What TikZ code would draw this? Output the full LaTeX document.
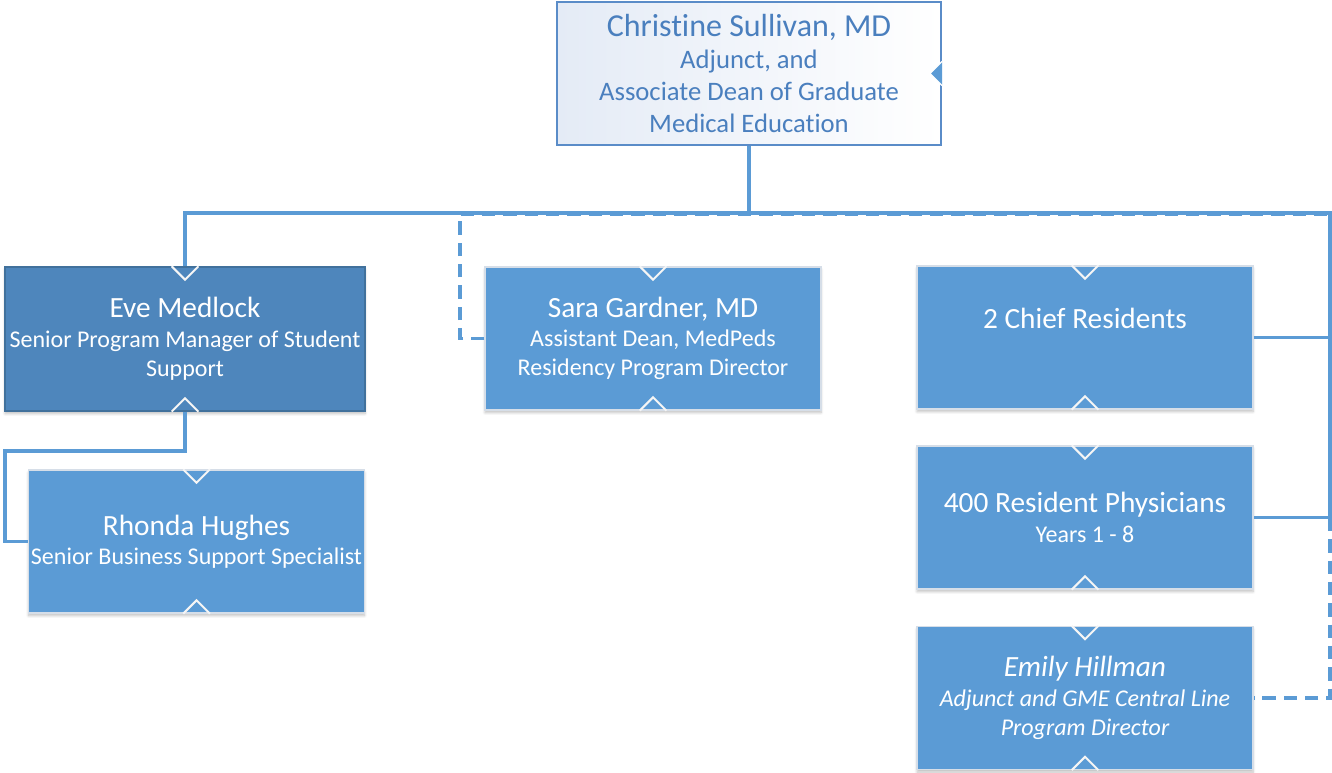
\documentclass[tikz,border=0pt]{standalone}
\usepackage{fontspec}
\setmainfont{Carlito}[Ligatures=NoCommon]
\usetikzlibrary{shadows.blur}
\definecolor{ofblue}{HTML}{5B9BD5}
\definecolor{evefill}{HTML}{4E86BC}
\definecolor{eveline}{HTML}{41719C}
\definecolor{toptext}{HTML}{4A7FBE}
\definecolor{topline}{HTML}{5A8CC8}
\definecolor{boxrim}{HTML}{D6DEE8}
\definecolor{topshade}{HTML}{E4EBF6}
\newcommand\namesz{\fontsize{22}{24}\selectfont}
\newcommand\topname{\fontsize{24}{26}\selectfont}
\newcommand\subsz{\fontsize{18}{22}\selectfont}
\newcommand\topsub{\fontsize{20}{24}\selectfont}
\begin{document}
\begin{tikzpicture}[x=0.75pt,y=-0.75pt,
  card/.style={draw=boxrim,line width=1pt,fill=ofblue,text=white,align=center,
    minimum width=252pt,minimum height=107.25pt,inner sep=0pt,font=\subsz,
    blur shadow={shadow xshift=0pt,shadow yshift=-2pt,shadow blur steps=6,shadow opacity=25}},
  link/.style={ofblue,line width=2.6pt},
  dashlink/.style={link,dash pattern=on 10pt off 6pt},
  notch/.style={white!92!gray,line width=1.5pt}]
\useasboundingbox(0,0)rectangle(1332,773);
%
\node[draw=topline,line width=1.5pt,left color=topshade,right color=white,text=toptext,align=center,
  minimum width=288pt,minimum height=107pt,font=\topsub](dean)at(749,73.5)
  {{\topname Christine Sullivan, MD}\\Adjunct, and\\Associate Dean of Graduate\\Medical Education};
\node[card,fill=evefill,draw=eveline,minimum width=270pt,minimum height=108pt](eve)at(185,339)
  {{\namesz Eve Medlock}\\Senior Program Manager of Student\\Support};
\node[card](rhonda)at(196.5,541.5){{\namesz Rhonda Hughes}\\Senior Business Support Specialist};
\node[card](sara)at(653,338.5){{\namesz Sara Gardner, MD}\\Assistant Dean, MedPeds\\Residency Program Director};
\node[card](chief)at(1085,337.5){{\namesz 2 Chief Residents}\\\strut};
\node[card](res)at(1085,517.5){{\namesz 400 Resident Physicians}\\Years 1 - 8};
\node[card,font=\subsz\itshape](emily)at(1085,698)
  {{\namesz Emily Hillman}\\Adjunct and GME Central Line\\Program Director};
%
\coordinate(busR)at(1330,213);
\coordinate(dashL)at(460,214);
\coordinate(dashR)at(1330,214);
\coordinate(rkink)at(5,451);
\draw[dashlink](sara.west)-|(dashL)--(dashR)|-(emily.east);
\draw[link](dean.south)--(dean.south|-busR);
\draw[link](eve.north)|-(busR)--(busR|-res.east)--(res.east);
\draw[link](chief.east)--(chief.east-|busR);
\draw[link](eve.south)|-(rkink)|-(rhonda.west);
%
\foreach \n in {eve,rhonda,sara,chief,res,emily}{
  \draw[notch]([xshift=-10pt]\n.north)--([yshift=-10pt]\n.north)--([xshift=10pt]\n.north);
  \draw[notch]([xshift=-10pt]\n.south)--([yshift=10pt]\n.south)--([xshift=10pt]\n.south);
}
\filldraw[fill=ofblue,draw=white,line width=1pt]([yshift=9pt]dean.east)--([xshift=-9pt]dean.east)--([yshift=-9pt]dean.east);
\end{tikzpicture}
\end{document}
